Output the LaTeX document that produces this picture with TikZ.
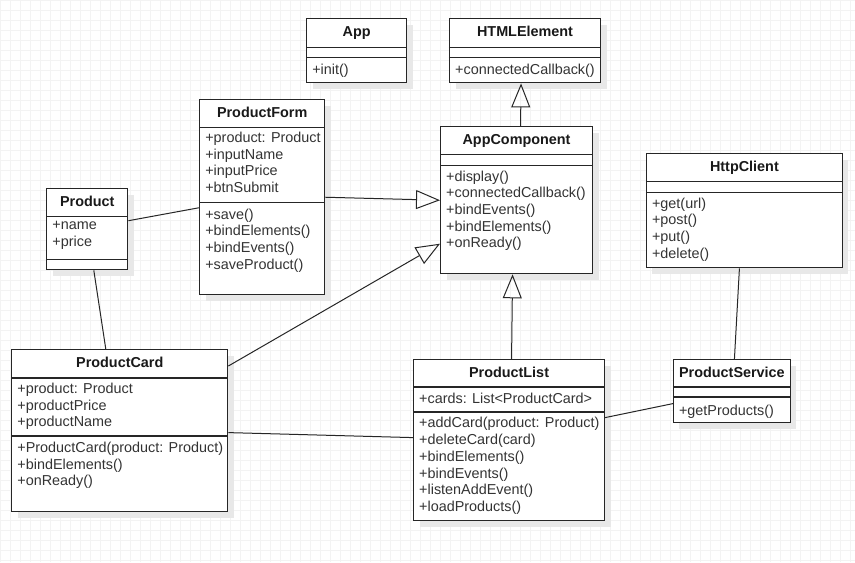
\documentclass[tikz,border=0pt]{standalone}
\usepackage{fontspec}
\setmainfont{Liberation Sans}
\usetikzlibrary{arrows.meta}
\usetikzlibrary{shadows}
\definecolor{uml-text}{RGB}{51, 51, 51}
\definecolor{uml-grid}{RGB}{243, 243, 243}
\definecolor{uml-shadow}{RGB}{232, 232, 232}
\tikzset{
  classrect/.style={draw=black!85, line width=1.2pt, fill=white, anchor=north west, inner sep=0pt,
    drop shadow={shadow xshift=6pt, shadow yshift=-6pt, fill=uml-shadow, opacity=1}},
  classtitle/.style={font=\fontsize{14.4}{16.7}\selectfont\bfseries, text=black!90,
    text height=10.5pt, text depth=3pt, inner sep=0pt},
  members/.style={font=\fontsize{14.4}{16.7}\selectfont, text=uml-text, align=left,
    anchor=north west, yshift=11.69pt, inner sep=0pt, execute at begin node=\strut},
  divider/.style={draw=black!85, line width=1.2pt},
  assoc/.style={draw=black!85, line width=1pt},
  inherit/.style={assoc, -{Triangle[open, length=24pt, width=19pt]}}
}

\begin{document}
\begin{tikzpicture}[x=1pt, y=-1pt]
\fill[white] (0,0) rectangle (855,562);
\draw[uml-grid, step=10pt, line width=0.5pt] (0,0) grid (855,562);
\useasboundingbox (0,0) rectangle (855,562);

% boxes
\node[classrect, minimum width=100pt, minimum height=64pt] (app) at (306,18) {};
\node[classrect, minimum width=151pt, minimum height=64pt] (html) at (449,18) {};
\node[classrect, minimum width=152pt, minimum height=147pt] (appc) at (440,126) {};
\node[classrect, minimum width=196pt, minimum height=114pt] (http) at (646,153) {};
\node[classrect, minimum width=125pt, minimum height=195pt] (pform) at (199,99) {};
\node[classrect, minimum width=81pt, minimum height=81pt] (product) at (46,188) {};
\node[classrect, minimum width=216pt, minimum height=162pt] (pcard) at (11,349) {};
\node[classrect, minimum width=191pt, minimum height=161pt] (plist) at (413,359) {};
\node[classrect, minimum width=117pt, minimum height=63pt] (pserv) at (673,359) {};

% titles
\node[classtitle] (apptitle) at ([yshift=-14.5pt]app.north) {App};
\node[classtitle] (htmltitle) at ([yshift=-14.5pt]html.north) {HTMLElement};
\node[classtitle] (appctitle) at ([yshift=-14.5pt]appc.north) {AppComponent};
\node[classtitle] (httptitle) at ([yshift=-14.5pt]http.north) {HttpClient};
\node[classtitle] (pformtitle) at ([yshift=-14.5pt]pform.north) {ProductForm};
\node[classtitle] (producttitle) at ([yshift=-14.5pt]product.north) {Product};
\node[classtitle] (pcardtitle) at ([yshift=-14.5pt]pcard.north) {ProductCard};
\node[classtitle] (plisttitle) at ([yshift=-14.5pt]plist.north) {ProductList};
\node[classtitle] (pservtitle) at ([yshift=-14.5pt]pserv.north) {ProductService};

% compartments
\draw[divider] (306,47) -- (406,47);
\draw[divider] (306,57) -- (406,57);
\draw[divider] (449,47) -- (600,47);
\draw[divider] (449,57) -- (600,57);
\draw[divider] (440,154) -- (592,154);
\draw[divider] (440,165) -- (592,165);
\draw[divider] (646,181) -- (842,181);
\draw[divider] (646,192) -- (842,192);
\draw[divider] (199,127) -- (324,127);
\draw[divider] (199,202) -- (324,202);
\draw[divider] (46,216) -- (127,216);
\draw[divider] (46,259) -- (127,259);
\draw[divider] (11,378) -- (227,378);
\draw[divider] (11,436) -- (227,436);
\draw[divider] (413,387) -- (604,387);
\draw[divider] (413,412) -- (604,412);
\draw[divider] (673,387) -- (790,387);
\draw[divider] (673,397) -- (790,397);

% members
\node[members] (appops) at (312,74) {+init()};
\node[members] (htmlops) at (455,74) {+connectedCallback()};
\node[members] (appcops) at (446,182) {+display()\\+connectedCallback()\\+bindEvents()\\+bindElements()\\+onReady()};
\node[members] (httpops) at (652,209) {+get(url)\\+post()\\+put()\\+delete()};
\node[members] (pformattrs) at (205,143.5) {+product: Product\\+inputName\\+inputPrice\\+btnSubmit};
\node[members] (pformops) at (205,220) {+save()\\+bindElements()\\+bindEvents()\\+saveProduct()};
\node[members] (productattrs) at (52,233) {+name\\+price};
\node[members] (pcardattrs) at (17,394.5) {+product: Product\\+productPrice\\+productName};
\node[members] (pcardops) at (17,453.5) {+ProductCard(product: Product)\\+bindElements()\\+onReady()};
\node[members] (plistattrs) at (419,403.5) {+cards: List<ProductCard>};
\node[members] (plistops) at (419,429) {+addCard(product: Product)\\+deleteCard(card)\\+bindElements()\\+bindEvents()\\+listenAddEvent()\\+loadProducts()};
\node[members] (pservops) at (679,415) {+getProducts()};

% connectors
\draw[inherit] ([xshift=4pt]appc.north) -- ([xshift=-4pt]html.south);
\draw[inherit] (pform.east) -- (appc.west);
\draw[inherit] ([yshift=-17pt]pcard.north east) -- ([yshift=-43.5pt]appc.west);
\draw[inherit] ([xshift=2.5pt]plist.north) -- ([xshift=-4pt]appc.south);
\draw[assoc] ([yshift=8.5pt]product.east) -- ([yshift=-10.5pt]pform.west);
\draw[assoc] ([xshift=6.5pt]product.south) -- ([xshift=-14pt]pcard.north);
\draw[assoc] ([yshift=-2pt]pcard.east) -- ([yshift=2.5pt]plist.west);
\draw[assoc] ([yshift=22.5pt]plist.east) -- ([yshift=-12.5pt]pserv.west);
\draw[assoc] ([xshift=-5pt]http.south) -- ([xshift=2.5pt]pserv.north);
\end{tikzpicture}
\end{document}
